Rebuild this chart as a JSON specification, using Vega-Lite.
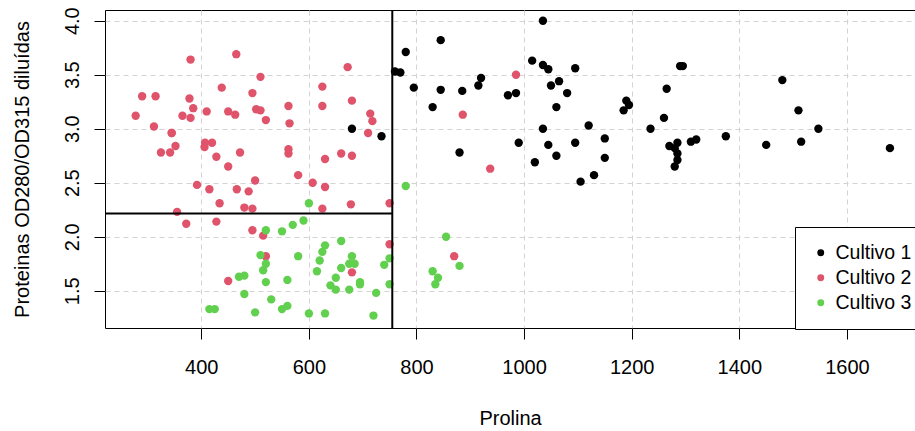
{
"$schema":"https://vega.github.io/schema/vega-lite/v6.json",
"width":810,"height":318,
"autosize":{"type":"none"},
"padding":{"left":105,"top":10,"right":0,"bottom":103},
"background":"white",
"config":{
 "font":"Liberation Sans",
 "view":{"stroke":"black","strokeWidth":1},
 "axis":{"domain":false,"tickColor":"black","tickSize":11,"tickWidth":1,"labelFont":"Liberation Sans","labelFontSize":20,"labelColor":"black","titleFont":"Liberation Sans","titleFontSize":20,"titleFontWeight":"normal","titleColor":"black","gridColor":"#D3D3D3","gridDash":[5,4],"gridWidth":1,"labelOverlap":false,"labelFlush":false},
 "legend":{"labelFont":"Liberation Sans"}
},
"datasets":{"pts":[
{"p":1050,"o":3.4,"c":"Cultivo 1"},{"p":1185,"o":3.17,"c":"Cultivo 1"},{"p":1480,"o":3.45,"c":"Cultivo 1"},{"p":735,"o":2.93,"c":"Cultivo 1"},{"p":1450,"o":2.85,"c":"Cultivo 1"},{"p":1290,"o":3.58,"c":"Cultivo 1"},{"p":1295,"o":3.58,"c":"Cultivo 1"},{"p":1045,"o":2.85,"c":"Cultivo 1"},{"p":1045,"o":3.55,"c":"Cultivo 1"},{"p":1510,"o":3.17,"c":"Cultivo 1"},{"p":1280,"o":2.82,"c":"Cultivo 1"},{"p":1320,"o":2.9,"c":"Cultivo 1"},{"p":1150,"o":2.73,"c":"Cultivo 1"},{"p":1547,"o":3,"c":"Cultivo 1"},{"p":1310,"o":2.88,"c":"Cultivo 1"},{"p":1280,"o":2.65,"c":"Cultivo 1"},{"p":1130,"o":2.57,"c":"Cultivo 1"},{"p":1680,"o":2.82,"c":"Cultivo 1"},{"p":845,"o":3.36,"c":"Cultivo 1"},{"p":780,"o":3.71,"c":"Cultivo 1"},{"p":770,"o":3.52,"c":"Cultivo 1"},{"p":1035,"o":4,"c":"Cultivo 1"},{"p":1015,"o":3.63,"c":"Cultivo 1"},{"p":845,"o":3.82,"c":"Cultivo 1"},{"p":830,"o":3.2,"c":"Cultivo 1"},{"p":1195,"o":3.22,"c":"Cultivo 1"},{"p":1285,"o":2.77,"c":"Cultivo 1"},{"p":915,"o":3.4,"c":"Cultivo 1"},{"p":1035,"o":3.59,"c":"Cultivo 1"},{"p":1285,"o":2.71,"c":"Cultivo 1"},{"p":1515,"o":2.88,"c":"Cultivo 1"},{"p":990,"o":2.87,"c":"Cultivo 1"},{"p":1235,"o":3,"c":"Cultivo 1"},{"p":1095,"o":2.87,"c":"Cultivo 1"},{"p":920,"o":3.47,"c":"Cultivo 1"},{"p":880,"o":2.78,"c":"Cultivo 1"},{"p":1105,"o":2.51,"c":"Cultivo 1"},{"p":1020,"o":2.69,"c":"Cultivo 1"},{"p":760,"o":3.53,"c":"Cultivo 1"},{"p":795,"o":3.38,"c":"Cultivo 1"},{"p":1035,"o":3,"c":"Cultivo 1"},{"p":1095,"o":3.56,"c":"Cultivo 1"},{"p":680,"o":3,"c":"Cultivo 1"},{"p":885,"o":3.35,"c":"Cultivo 1"},{"p":1080,"o":3.33,"c":"Cultivo 1"},{"p":1065,"o":3.44,"c":"Cultivo 1"},{"p":985,"o":3.33,"c":"Cultivo 1"},{"p":1060,"o":2.75,"c":"Cultivo 1"},{"p":1260,"o":3.1,"c":"Cultivo 1"},{"p":1150,"o":2.91,"c":"Cultivo 1"},{"p":1265,"o":3.37,"c":"Cultivo 1"},{"p":1190,"o":3.26,"c":"Cultivo 1"},{"p":1375,"o":2.93,"c":"Cultivo 1"},{"p":1060,"o":3.2,"c":"Cultivo 1"},{"p":1120,"o":3.03,"c":"Cultivo 1"},{"p":970,"o":3.31,"c":"Cultivo 1"},{"p":1270,"o":2.84,"c":"Cultivo 1"},{"p":1285,"o":2.87,"c":"Cultivo 1"},
{"p":520,"o":1.82,"c":"Cultivo 2"},{"p":680,"o":1.67,"c":"Cultivo 2"},{"p":450,"o":1.59,"c":"Cultivo 2"},{"p":630,"o":2.46,"c":"Cultivo 2"},{"p":420,"o":2.87,"c":"Cultivo 2"},{"p":355,"o":2.23,"c":"Cultivo 2"},{"p":678,"o":2.3,"c":"Cultivo 2"},{"p":502,"o":3.18,"c":"Cultivo 2"},{"p":510,"o":3.48,"c":"Cultivo 2"},{"p":750,"o":1.93,"c":"Cultivo 2"},{"p":718,"o":3.07,"c":"Cultivo 2"},{"p":870,"o":1.82,"c":"Cultivo 2"},{"p":410,"o":3.16,"c":"Cultivo 2"},{"p":472,"o":2.78,"c":"Cultivo 2"},{"p":985,"o":3.5,"c":"Cultivo 2"},{"p":886,"o":3.13,"c":"Cultivo 2"},{"p":428,"o":2.14,"c":"Cultivo 2"},{"p":392,"o":2.48,"c":"Cultivo 2"},{"p":500,"o":2.52,"c":"Cultivo 2"},{"p":750,"o":2.31,"c":"Cultivo 2"},{"p":463,"o":3.13,"c":"Cultivo 2"},{"p":278,"o":3.12,"c":"Cultivo 2"},{"p":714,"o":3.14,"c":"Cultivo 2"},{"p":630,"o":2.72,"c":"Cultivo 2"},{"p":515,"o":2.01,"c":"Cultivo 2"},{"p":520,"o":3.08,"c":"Cultivo 2"},{"p":450,"o":3.16,"c":"Cultivo 2"},{"p":495,"o":2.26,"c":"Cultivo 2"},{"p":562,"o":3.21,"c":"Cultivo 2"},{"p":680,"o":2.75,"c":"Cultivo 2"},{"p":625,"o":3.21,"c":"Cultivo 2"},{"p":480,"o":2.27,"c":"Cultivo 2"},{"p":450,"o":2.65,"c":"Cultivo 2"},{"p":495,"o":2.06,"c":"Cultivo 2"},{"p":290,"o":3.3,"c":"Cultivo 2"},{"p":345,"o":2.96,"c":"Cultivo 2"},{"p":937,"o":2.63,"c":"Cultivo 2"},{"p":625,"o":2.26,"c":"Cultivo 2"},{"p":428,"o":2.74,"c":"Cultivo 2"},{"p":660,"o":2.77,"c":"Cultivo 2"},{"p":406,"o":2.83,"c":"Cultivo 2"},{"p":710,"o":2.96,"c":"Cultivo 2"},{"p":562,"o":2.77,"c":"Cultivo 2"},{"p":438,"o":3.38,"c":"Cultivo 2"},{"p":415,"o":2.44,"c":"Cultivo 2"},{"p":672,"o":3.57,"c":"Cultivo 2"},{"p":315,"o":3.3,"c":"Cultivo 2"},{"p":510,"o":3.17,"c":"Cultivo 2"},{"p":488,"o":2.42,"c":"Cultivo 2"},{"p":312,"o":3.02,"c":"Cultivo 2"},{"p":680,"o":3.26,"c":"Cultivo 2"},{"p":562,"o":2.81,"c":"Cultivo 2"},{"p":325,"o":2.78,"c":"Cultivo 2"},{"p":607,"o":2.5,"c":"Cultivo 2"},{"p":434,"o":2.31,"c":"Cultivo 2"},{"p":385,"o":3.19,"c":"Cultivo 2"},{"p":407,"o":2.87,"c":"Cultivo 2"},{"p":495,"o":3.33,"c":"Cultivo 2"},{"p":345,"o":2.96,"c":"Cultivo 2"},{"p":372,"o":2.12,"c":"Cultivo 2"},{"p":564,"o":3.05,"c":"Cultivo 2"},{"p":625,"o":3.39,"c":"Cultivo 2"},{"p":465,"o":3.69,"c":"Cultivo 2"},{"p":365,"o":3.12,"c":"Cultivo 2"},{"p":380,"o":3.1,"c":"Cultivo 2"},{"p":380,"o":3.64,"c":"Cultivo 2"},{"p":378,"o":3.28,"c":"Cultivo 2"},{"p":352,"o":2.84,"c":"Cultivo 2"},{"p":466,"o":2.44,"c":"Cultivo 2"},{"p":342,"o":2.78,"c":"Cultivo 2"},{"p":580,"o":2.57,"c":"Cultivo 2"},
{"p":630,"o":1.29,"c":"Cultivo 3"},{"p":530,"o":1.42,"c":"Cultivo 3"},{"p":560,"o":1.36,"c":"Cultivo 3"},{"p":600,"o":1.29,"c":"Cultivo 3"},{"p":650,"o":1.51,"c":"Cultivo 3"},{"p":695,"o":1.58,"c":"Cultivo 3"},{"p":720,"o":1.27,"c":"Cultivo 3"},{"p":515,"o":1.69,"c":"Cultivo 3"},{"p":580,"o":1.82,"c":"Cultivo 3"},{"p":590,"o":2.15,"c":"Cultivo 3"},{"p":600,"o":2.31,"c":"Cultivo 3"},{"p":780,"o":2.47,"c":"Cultivo 3"},{"p":520,"o":2.06,"c":"Cultivo 3"},{"p":550,"o":2.05,"c":"Cultivo 3"},{"p":855,"o":2,"c":"Cultivo 3"},{"p":830,"o":1.68,"c":"Cultivo 3"},{"p":415,"o":1.33,"c":"Cultivo 3"},{"p":625,"o":1.86,"c":"Cultivo 3"},{"p":650,"o":1.62,"c":"Cultivo 3"},{"p":550,"o":1.33,"c":"Cultivo 3"},{"p":500,"o":1.3,"c":"Cultivo 3"},{"p":480,"o":1.47,"c":"Cultivo 3"},{"p":425,"o":1.33,"c":"Cultivo 3"},{"p":675,"o":1.51,"c":"Cultivo 3"},{"p":640,"o":1.55,"c":"Cultivo 3"},{"p":725,"o":1.48,"c":"Cultivo 3"},{"p":480,"o":1.64,"c":"Cultivo 3"},{"p":880,"o":1.73,"c":"Cultivo 3"},{"p":660,"o":1.96,"c":"Cultivo 3"},{"p":620,"o":1.78,"c":"Cultivo 3"},{"p":520,"o":1.58,"c":"Cultivo 3"},{"p":680,"o":1.82,"c":"Cultivo 3"},{"p":570,"o":2.11,"c":"Cultivo 3"},{"p":675,"o":1.75,"c":"Cultivo 3"},{"p":615,"o":1.68,"c":"Cultivo 3"},{"p":520,"o":1.75,"c":"Cultivo 3"},{"p":695,"o":1.56,"c":"Cultivo 3"},{"p":685,"o":1.75,"c":"Cultivo 3"},{"p":750,"o":1.8,"c":"Cultivo 3"},{"p":630,"o":1.92,"c":"Cultivo 3"},{"p":510,"o":1.83,"c":"Cultivo 3"},{"p":470,"o":1.63,"c":"Cultivo 3"},{"p":660,"o":1.71,"c":"Cultivo 3"},{"p":740,"o":1.74,"c":"Cultivo 3"},{"p":750,"o":1.56,"c":"Cultivo 3"},{"p":835,"o":1.56,"c":"Cultivo 3"},{"p":840,"o":1.62,"c":"Cultivo 3"},{"p":560,"o":1.6,"c":"Cultivo 3"}
]},
"layer":[
{"data":{"name":"pts"},
 "mark":{"type":"circle","opacity":1,"size":70},
 "encoding":{
  "x":{"field":"p","type":"quantitative","scale":{"domain":[221,1726.6],"nice":false,"zero":false},
       "axis":{"values":[400,600,800,1000,1200,1400,1600],"format":"d","title":"Prolina","labelBaseline":"top","labelPadding":18,"titlePadding":31}},
  "y":{"field":"o","type":"quantitative","scale":{"domain":[1.155,4.099],"nice":false,"zero":false},
       "axis":{"values":[1.5,2,2.5,3,3.5,4],"format":".1f","labelAngle":-90,"labelAlign":"center","labelBaseline":"bottom","labelPadding":12,"title":"Proteinas OD280/OD315 diluídas","titlePadding":30}},
  "color":{"field":"c","type":"nominal","scale":{"domain":["Cultivo 1","Cultivo 2","Cultivo 3"],"range":["#000000","#DF536B","#61D04F"]},
       "legend":{"title":null,"orient":"none","legendX":690,"legendY":217,"strokeColor":"black","fillColor":"white","padding":16,"symbolType":"circle","symbolSize":48,"symbolStrokeWidth":0,"symbolOpacity":1,"labelFontSize":19.5,"labelColor":"black","labelOffset":5,"rowPadding":4}}
 }},
{"data":{"values":[{"p":755}]},
 "mark":{"type":"rule","color":"black","strokeWidth":2},
 "encoding":{"x":{"field":"p","type":"quantitative"}}},
{"data":{"values":[{"p":221,"p2":755,"o":2.215}]},
 "mark":{"type":"rule","color":"black","strokeWidth":2},
 "encoding":{"x":{"field":"p","type":"quantitative"},"x2":{"field":"p2"},"y":{"field":"o","type":"quantitative"}}}
]
}
